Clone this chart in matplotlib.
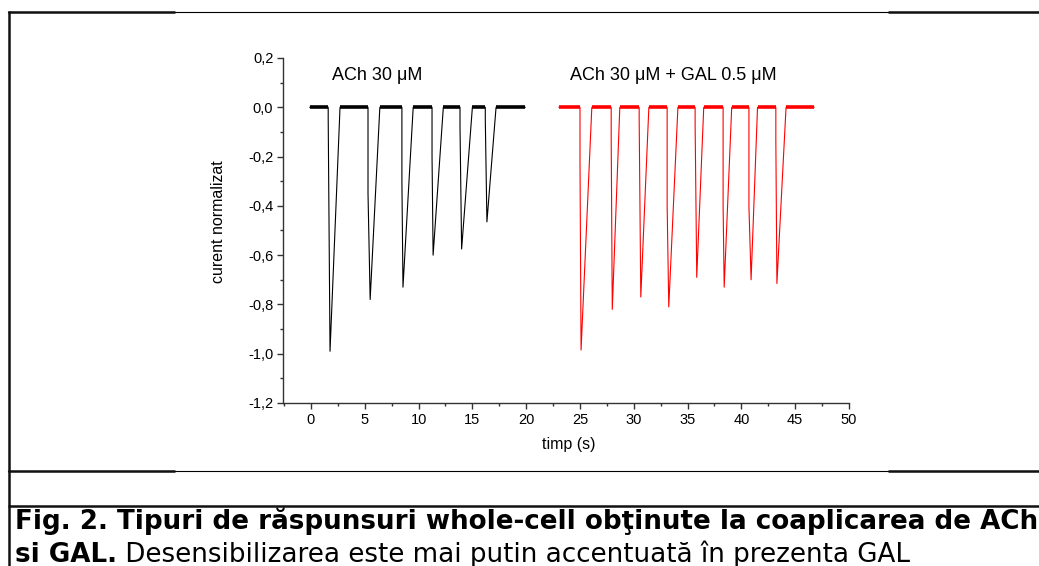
import matplotlib
matplotlib.use('Agg')
import matplotlib.pyplot as plt

# Black trace: ACh 30 uM alone
ach_start, ach_stop = -0.1, 19.9
ach_end = [1.6, 5.3, 8.45, 11.25, 13.85, 16.2]          # end of baseline before each pulse
ach_spike = [-0.04, -0.35, -0.30, -0.20, -0.08, -0.05]  # artefact at pulse onset
ach_peak_t = [1.77, 5.5, 8.55, 11.35, 14.0, 16.35]
ach_peak = [-0.99, -0.78, -0.73, -0.60, -0.575, -0.465]
ach_rec = [2.7, 6.4, 9.5, 12.3, 15.0, 17.2]             # back to baseline

# Red trace: ACh 30 uM + GAL 0.5 uM
gal_start, gal_stop = 23.05, 46.75
gal_end = [25.0, 27.9, 30.5, 33.1, 35.7, 38.3, 40.7, 43.2]
gal_spike = [-0.21, -0.12, -0.05, -0.40, -0.07, -0.40, -0.40, -0.13]
gal_peak_t = [25.1, 28.0, 30.65, 33.25, 35.85, 38.4, 40.9, 43.3]
gal_peak = [-0.985, -0.82, -0.77, -0.81, -0.69, -0.73, -0.70, -0.715]
gal_rec = [26.1, 28.7, 31.4, 34.1, 36.5, 39.1, 41.5, 44.15]

xticks = [0, 5, 10, 15, 20, 25, 30, 35, 40, 45, 50]
yticks = [0.2, 0.0, -0.2, -0.4, -0.6, -0.8, -1.0, -1.2]
ytick_labels = ['0,2', '0,0', '-0,2', '-0,4', '-0,6', '-0,8', '-1,0', '-1,2']

caption_1 = 'Fig. 2. Tipuri de răspunsuri whole-cell obţinute la coaplicarea de ACh'
caption_2a = 'si GAL.'
caption_2b = ' Desensibilizarea este mai putin accentuată în prezenta GAL'

plt.rcParams['font.family'] = ['Liberation Sans', 'DejaVu Sans']

W, H = 1039, 566
fig = plt.figure(figsize=(W / 100, H / 100), dpi=100)

# page frame (pixel coordinates)
frame = fig.add_axes([0, 0, 1, 1])
frame.set_xlim(0, W)
frame.set_ylim(H, 0)
frame.axis('off')
for y in (11.5, 471):
    frame.plot([8, W], [y, y], color='black', lw=0.8)
    frame.plot([8, 175], [y, y], color='#111111', lw=1.8, solid_capstyle='butt')
    frame.plot([888, W], [y, y], color='#111111', lw=1.8, solid_capstyle='butt')
frame.plot([8, W], [506, 506], color='#111111', lw=1.8, solid_capstyle='butt')
frame.plot([9, 9], [10.5, H], color='#111111', lw=1.8, solid_capstyle='butt')


def trace(start, stop, ends, spikes, peak_ts, peaks, recs):
    xs, ys = [start], [0.0]
    for e, s, pt, p, r in zip(ends, spikes, peak_ts, peaks, recs):
        xs += [e, e, pt, r]
        ys += [0.0, s, p, 0.0]
    xs.append(stop)
    ys.append(0.0)
    base = list(zip([start] + recs, ends + [stop]))
    return xs, ys, base


ax = fig.add_axes([283 / W, 1 - 403 / H, 566 / W, 345 / H])

for args, col in [((ach_start, ach_stop, ach_end, ach_spike, ach_peak_t, ach_peak, ach_rec), 'black'),
                  ((gal_start, gal_stop, gal_end, gal_spike, gal_peak_t, gal_peak, gal_rec), '#ff0000')]:
    xs, ys, base = trace(*args)
    ax.plot(xs, ys, color=col, lw=0.8)
    for a, b in base:
        ax.plot([a, b], [0, 0], color=col, lw=2.6, solid_capstyle='butt')

ax.set_xlim(-2.6, 50)
ax.set_ylim(-1.2, 0.2)
ax.set_xticks(xticks)
ax.set_xticks([x + 2.5 for x in xticks[:-1]] + [-2.5], minor=True)
ax.set_yticks(yticks)
ax.set_yticklabels(ytick_labels)
ax.set_yticks([v - 0.1 for v in yticks[:-1]], minor=True)
for side in ('top', 'right'):
    ax.spines[side].set_visible(False)
for side in ('left', 'bottom'):
    ax.spines[side].set_color('#333333')
    ax.spines[side].set_linewidth(1.0)
ax.tick_params(which='major', direction='out', length=4, width=1, color='#333333', labelsize=10.5, pad=3)
ax.tick_params(which='minor', direction='out', length=2.5, width=1, color='#333333')
ax.set_xlabel('timp (s)', fontsize=11.5)
ax.set_ylabel('curent normalizat', fontsize=11.5)
ax.xaxis.set_label_coords(0.504, -0.099)
ax.yaxis.set_label_coords(-0.1, 0.527)
ax.patch.set_alpha(0)

ax.text(2.0, 0.13, 'ACh 30 μM', fontsize=13, va='center', ha='left')
ax.text(24.1, 0.13, 'ACh 30 μM + GAL 0.5 μM', fontsize=13, va='center', ha='left')

# caption (second line runs off the bottom edge, as in the source page)
cap_font = dict(family='DejaVu Sans', fontsize=18.8, color='black')
frame.text(15, 529, caption_1, fontweight='bold', va='baseline', ha='left', **cap_font)
t2 = frame.text(15, 562, caption_2a, fontweight='bold', va='baseline', ha='left', **cap_font)
fig.canvas.draw()
bb = t2.get_window_extent()
frame.text(bb.x1, 562, caption_2b, va='baseline', ha='left', **cap_font)

fig.savefig('out.png', dpi=100)
